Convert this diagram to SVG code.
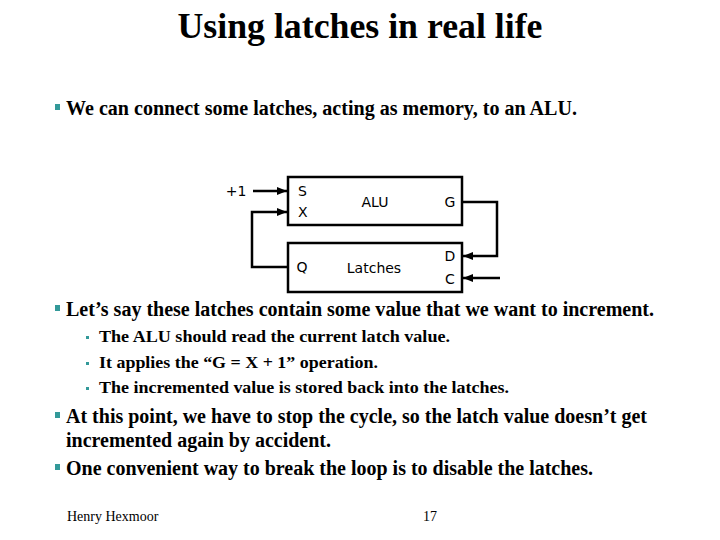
<svg xmlns="http://www.w3.org/2000/svg" width="720" height="540" viewBox="0 0 720 540">
<defs>
<style>
.title{font-family:"Liberation Serif",serif;font-weight:bold;font-size:35px;fill:#000}
.b1{font-family:"Liberation Serif",serif;font-weight:bold;font-size:20px;fill:#000}
.b2{font-family:"Liberation Serif",serif;font-weight:bold;font-size:17px;fill:#000}
.foot{font-family:"Liberation Serif",serif;font-size:14px;fill:#000}
.dg{font-family:"DejaVu Sans",sans-serif;font-size:14px;fill:#000}
.box{fill:#fff;stroke:#000;stroke-width:2.5}
.wire{fill:none;stroke:#000;stroke-width:2.5}
.sq{fill:#339999}
</style>
<marker id="ah" viewBox="0 0 10 10" refX="10" refY="5" markerWidth="4" markerHeight="4" orient="auto" markerUnits="strokeWidth">
<path d="M0,1 L10,5 L0,9 z" fill="#000"/>
</marker>
</defs>
<rect width="720" height="540" fill="#fff"/>
<text class="title" x="360" y="38" text-anchor="middle" textLength="365" lengthAdjust="spacingAndGlyphs">Using latches in real life</text>

<rect class="sq" x="55" y="104" width="5" height="6"/>
<text class="b1" x="66" y="115" textLength="511" lengthAdjust="spacingAndGlyphs">We can connect some latches, acting as memory, to an ALU.</text>

<g id="connectors">
<line class="wire" x1="253" y1="191" x2="287" y2="191" marker-end="url(#ah)"/>
<polyline class="wire" points="288,267 252,267 252,212 287,212" marker-end="url(#ah)"/>
<polyline class="wire" points="462,202 497,202 497,256 463,256" marker-end="url(#ah)"/>
<line class="wire" x1="500" y1="278" x2="463" y2="278" marker-end="url(#ah)"/>
</g>

<g id="plus1"><text class="dg" x="236" y="196" text-anchor="middle">+1</text></g>
<g id="alu">
<rect class="box" x="288" y="177" width="174" height="48"/>
<text class="dg" x="298" y="196">S</text>
<text class="dg" x="298" y="217">X</text>
<text class="dg" x="375" y="207" text-anchor="middle">ALU</text>
<text class="dg" x="450" y="207" text-anchor="middle">G</text>
</g>
<g id="latches">
<rect class="box" x="288" y="243" width="174" height="49"/>
<text class="dg" x="302" y="272" text-anchor="middle">Q</text>
<text class="dg" x="374" y="273" text-anchor="middle">Latches</text>
<text class="dg" x="450" y="261" text-anchor="middle">D</text>
<text class="dg" x="450" y="284" text-anchor="middle">C</text>
</g>

<rect class="sq" x="55" y="305" width="5" height="6"/>
<text class="b1" x="66" y="316" textLength="588" lengthAdjust="spacingAndGlyphs">Let’s say these latches contain some value that we want to increment.</text>

<rect class="sq" x="86" y="336" width="3" height="3"/>
<text class="b2" x="99" y="342" textLength="351" lengthAdjust="spacingAndGlyphs">The ALU should read the current latch value.</text>
<rect class="sq" x="86" y="362" width="3" height="3"/>
<text class="b2" x="99" y="368" textLength="279" lengthAdjust="spacingAndGlyphs">It applies the “G = X + 1” operation.</text>
<rect class="sq" x="86" y="387" width="3" height="3"/>
<text class="b2" x="99" y="393" textLength="410" lengthAdjust="spacingAndGlyphs">The incremented value is stored back into the latches.</text>

<rect class="sq" x="55" y="412" width="5" height="6"/>
<text class="b1" x="66" y="423" textLength="581" lengthAdjust="spacingAndGlyphs">At this point, we have to stop the cycle, so the latch value doesn’t get</text>
<text class="b1" x="66" y="447" textLength="265" lengthAdjust="spacingAndGlyphs">incremented again by accident.</text>
<rect class="sq" x="55" y="464" width="5" height="6"/>
<text class="b1" x="66" y="475" textLength="527" lengthAdjust="spacingAndGlyphs">One convenient way to break the loop is to disable the latches.</text>

<text class="foot" x="67" y="521">Henry Hexmoor</text>
<text class="foot" x="430" y="521" text-anchor="middle">17</text>
</svg>
